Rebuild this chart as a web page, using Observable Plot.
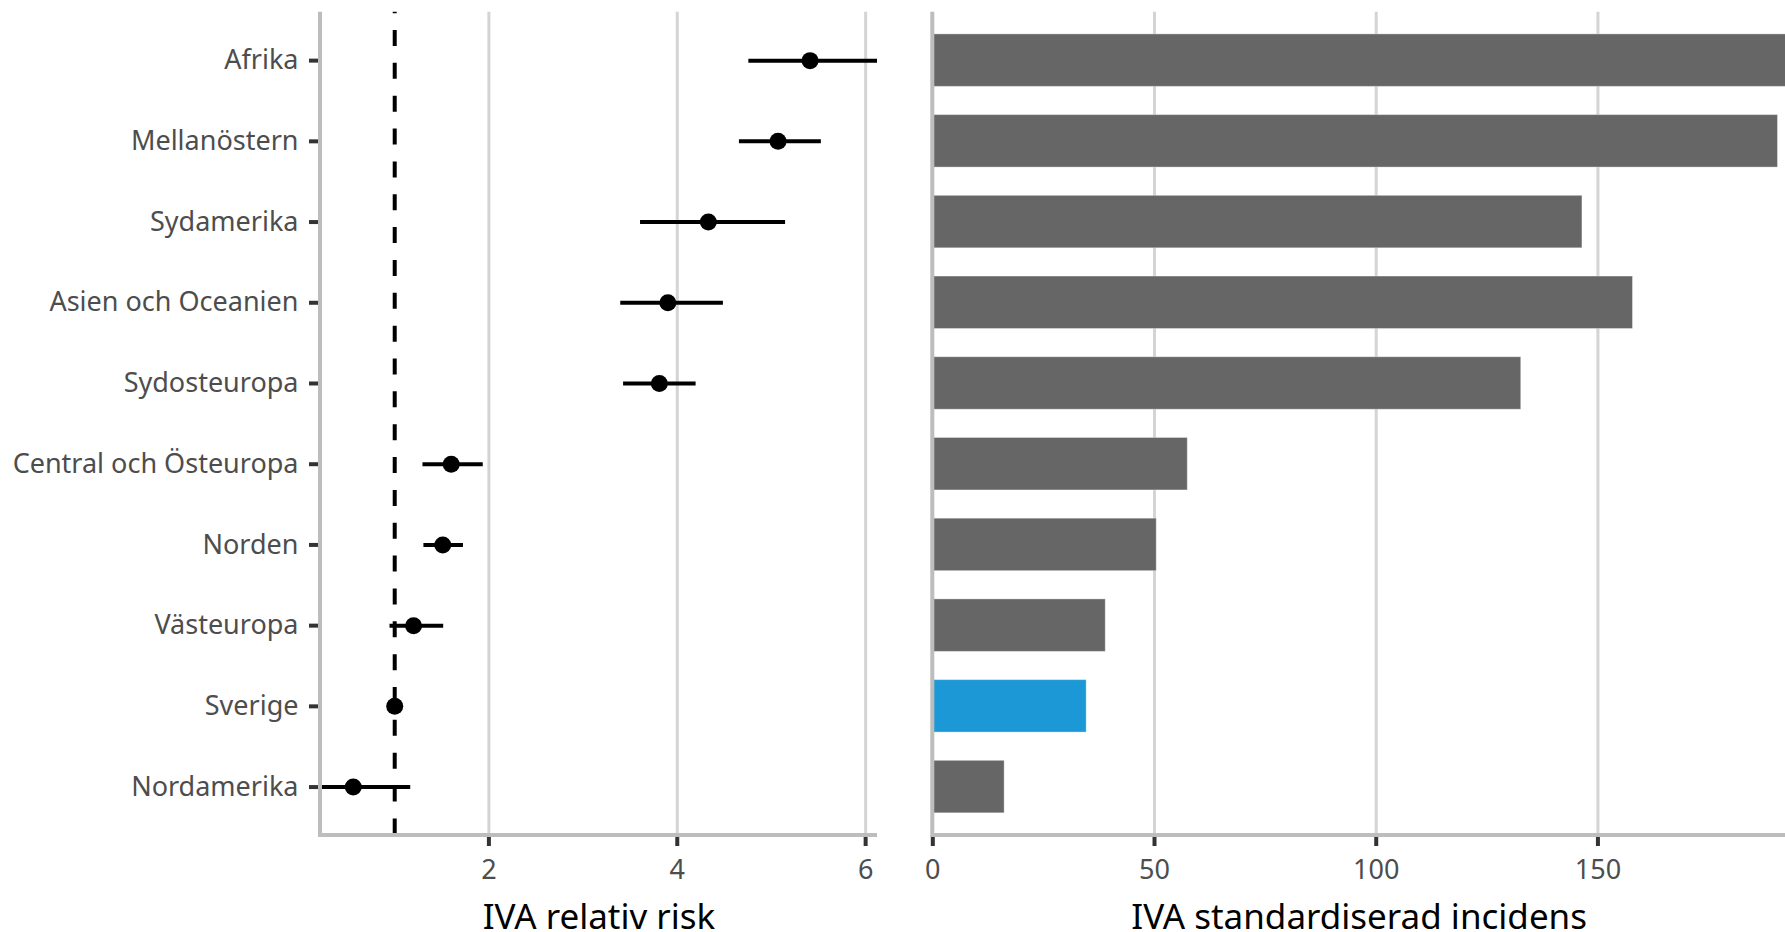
<!DOCTYPE html>
<html>
<head>
<meta charset="utf-8">
<script src="https://cdn.jsdelivr.net/npm/d3@7"></script>
<script src="https://cdn.jsdelivr.net/npm/@observablehq/plot@0.6"></script>
<style>
  html, body { margin: 0; padding: 0; background: #fff; }
  #wrap { display: flex; width: 1785px; height: 932px; overflow: hidden; }
  #wrap svg { display: block; flex: none; }
</style>
</head>
<body>
<div id="wrap"></div>
<script>
// ---- data ----
const regions = ["Afrika", "Mellanöstern", "Sydamerika", "Asien och Oceanien", "Sydosteuropa",
                 "Central och Östeuropa", "Norden", "Västeuropa", "Sverige", "Nordamerika"];
const relRisk     = [5.41, 5.07, 4.33, 3.90, 3.81, 1.60, 1.51, 1.20, 1.00, 0.56];
const relRiskLow  = [4.76, 4.66, 3.61, 3.40, 3.43, 1.30, 1.31, 0.95, 1.00, 0.15];
const relRiskHigh = [6.30, 5.53, 5.15, 4.49, 4.20, 1.94, 1.73, 1.52, 1.00, 1.17];
const incidence   = [205, 190.6, 146.5, 157.9, 132.7, 57.5, 50.5, 39.0, 34.7, 16.2];
const riskTicks = [2, 4, 6];
const incTicks = [0, 50, 100, 150];
const highlight = "Sverige";

const rows = regions.map((r, i) => ({
  region: r, rr: relRisk[i], lo: relRiskLow[i], hi: relRiskHigh[i], inc: incidence[i]
}));

const H = 932, TOP = 11.7, BOTTOM = 97;
const FONT = "Noto Sans";
const TICK_FS = 27, TITLE_FS = 35;
const GRID = "#d4d4d4", AXIS = "#bdbdbd", TEXT = "#4d4d4d", TICK = "#333333";

const yOpts = () => ({type: "band", domain: regions, paddingInner: 0.35, paddingOuter: 0.275, round: false, label: null});

function axisLines(stroke, w) {
  return (index, scales, values, dims) => {
    const {width, height, marginLeft, marginRight, marginTop, marginBottom} = dims;
    return d3.create("svg:path")
      .attr("d", `M${marginLeft},${marginTop}V${height - marginBottom}H${width - marginRight}`)
      .attr("fill", "none").attr("stroke", stroke).attr("stroke-width", w)
      .node();
  };
}

const left = Plot.plot({
  width: 877, height: H,
  marginLeft: 320, marginRight: 0, marginTop: TOP, marginBottom: BOTTOM,
  style: {fontFamily: FONT, background: "white", overflow: "visible"},
  x: {domain: [0.212, 6.126], label: null},
  y: yOpts(),
  marks: [
    Plot.gridX(riskTicks, {stroke: GRID, strokeOpacity: 1, strokeWidth: 3}),
    Plot.ruleX([1], {stroke: "black", strokeWidth: 4, strokeDasharray: "16,16.85", strokeDashoffset: 14.55}),
    Plot.ruleY(rows, {y: "region", x1: "lo", x2: "hi", stroke: "black", strokeWidth: 4, clip: true}),
    Plot.dot(rows, {y: "region", x: "rr", r: 8.5, fill: "black", stroke: null}),
    Plot.axisY({tickSize: 11, tickPadding: 11, fontSize: TICK_FS, fill: TEXT, stroke: TICK, strokeWidth: 4, label: null}),
    Plot.axisX(riskTicks, {tickSize: 11, tickPadding: 13, fontSize: TICK_FS, fill: TEXT, stroke: TICK, strokeWidth: 4, label: null}),
    axisLines(AXIS, 4),
    Plot.text(["IVA relativ risk"], {text: d => d, frameAnchor: "bottom", lineAnchor: "bottom", dy: 93, fontSize: TITLE_FS, fill: "black"})
  ]
});

const right = Plot.plot({
  width: 908, height: H,
  marginLeft: 55.3, marginRight: 0, marginTop: TOP, marginBottom: BOTTOM,
  style: {fontFamily: FONT, background: "white", overflow: "visible"},
  x: {domain: [0, 192.3], label: null},
  y: {...yOpts(), axis: null},
  color: {type: "identity"},
  marks: [
    Plot.gridX(incTicks.filter(t => t > 0), {stroke: GRID, strokeOpacity: 1, strokeWidth: 3}),
    Plot.barX(rows, {y: "region", x: "inc",
      fill: d => d.region === highlight ? "#1b98d5" : "#666666",
      stroke: "white", strokeOpacity: 0.35, strokeWidth: 1, clip: true}),
    Plot.axisX(incTicks, {tickSize: 11, tickPadding: 13, fontSize: TICK_FS, fill: TEXT, stroke: TICK, strokeWidth: 4, label: null}),
    axisLines(AXIS, 4),
    Plot.text(["IVA standardiserad incidens"], {text: d => d, frameAnchor: "bottom", lineAnchor: "bottom", dy: 93, fontSize: TITLE_FS, fill: "black"})
  ]
});

document.getElementById("wrap").append(left, right);
</script>
</body>
</html>
